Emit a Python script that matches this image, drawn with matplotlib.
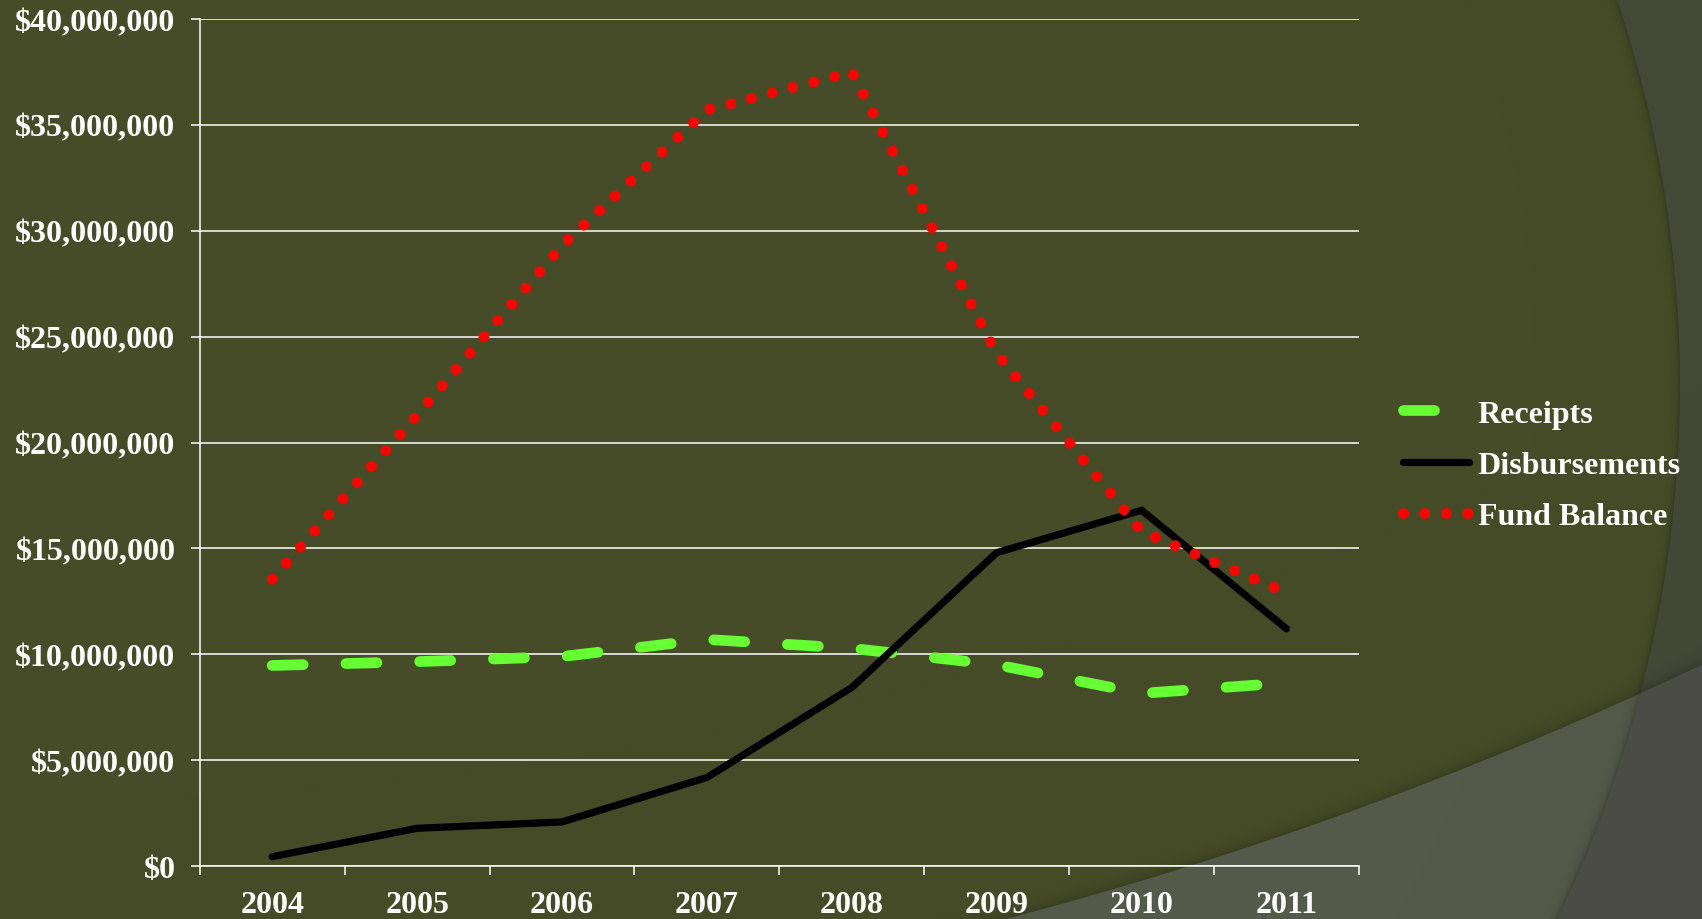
import numpy as np
import matplotlib
matplotlib.use('Agg')
import matplotlib.pyplot as plt
from matplotlib.ticker import FuncFormatter

# данные
years = ['2004', '2005', '2006', '2007', '2008', '2009', '2010', '2011']
receipts = [9.47e6, 9.65e6, 9.89e6, 10.70e6, 10.28e6, 9.50e6, 8.15e6, 8.65e6]
disbursements = [0.44e6, 1.78e6, 2.08e6, 4.18e6, 8.43e6, 14.80e6, 16.80e6, 11.20e6]
fund_balance = [13.54e6, 21.30e6, 29.30e6, 35.70e6, 37.50e6, 24.20e6, 15.80e6, 12.90e6]

W, H = 1702, 920
FONT = 'Liberation Serif'
FS = 23

fig = plt.figure(figsize=(W / 100, H / 100), dpi=100)

# --- фон: оливковый с двумя большими дугами ---
yy, xx = np.mgrid[0:H, 0:W] + 0.5
d1 = np.hypot(xx - 463, yy - 387) - 1217      # > 0 снаружи первой дуги
d2 = np.hypot(xx + 2, yy + 2920) - 3970       # > 0 снаружи второй дуги
a1 = np.clip(d1 + 0.5, 0, 1)[..., None]
a2 = np.clip(d2 + 0.5, 0, 1)[..., None]
base = np.array([70, 76, 39])
grey_tr = np.array([68, 72, 55])
light = np.array([85, 89, 74])
both = np.array([75, 76, 69])
col = (base * (1 - a1) * (1 - a2) + grey_tr * a1 * (1 - a2)
       + light * (1 - a1) * a2 + both * a1 * a2)
# тень вдоль краёв дуг
s1 = np.exp(-np.maximum(-d1, 0) / 4.0)[..., None] * (1 - a1) * 0.22
s2 = np.exp(-np.maximum(-d2, 0) / 7.0)[..., None] * (1 - a2) * 0.18
col = col * (1 - s1) * (1 - s2)

bg = fig.add_axes([0, 0, 1, 1], zorder=0)
bg.imshow(col / 255.0, extent=(0, W, H, 0), interpolation='nearest')
bg.set_xlim(0, W)
bg.set_ylim(H, 0)
bg.axis('off')

# --- основной график ---
ax = fig.add_axes([199.7 / W, 1 - 867 / H, (1359 - 199.7) / W, (867 - 20) / H], zorder=1)
ax.patch.set_alpha(0)

x = np.arange(len(years))
ax.plot(x, receipts, color='#66ff33', lw=7.7, dashes=(2.9, 4.0),
        dash_capstyle='round', solid_capstyle='round', label='Receipts', zorder=3)
ax.plot(x, disbursements, color='black', lw=5.2, solid_capstyle='round',
        solid_joinstyle='miter', label='Disbursements', zorder=4)
ax.plot(x, fund_balance, color='#ff0000', lw=7.8, dashes=(0.01, 1.97),
        dash_capstyle='round', label='Fund Balance', zorder=5)

ax.set_xlim(-0.5, len(years) - 0.5)
ax.set_ylim(0, 40e6)

ax.set_yticks(np.arange(0, 40e6 + 1, 5e6))
ax.yaxis.set_major_formatter(FuncFormatter(lambda v, p: '${:,.0f}'.format(v)))
ax.grid(axis='y', color='white', lw=1.1)
ax.set_axisbelow(True)

ax.set_xticks(np.arange(-0.5, len(years), 1))
ax.set_xticklabels([])
ax.set_xticks(x, minor=True)
ax.set_xticklabels(years, minor=True)

for s in ['top', 'right']:
    ax.spines[s].set_visible(False)
for s in ['left', 'bottom']:
    ax.spines[s].set_color('white')
    ax.spines[s].set_linewidth(1.1)

ax.tick_params(axis='y', which='major', colors='white', length=6.5, width=1.1, pad=11)
ax.tick_params(axis='x', which='major', colors='white', length=6.5, width=1.1)
ax.tick_params(axis='x', which='minor', length=0, pad=17)
for lab in ax.get_yticklabels() + ax.get_xticklabels(minor=True):
    lab.set_fontfamily(FONT)
    lab.set_fontweight('bold')
    lab.set_fontsize(FS)
    lab.set_color('white')

leg = ax.legend(loc='center left', bbox_to_anchor=(1403 / W, 1 - 466 / H),
                bbox_transform=fig.transFigure, frameon=False,
                handlelength=2.07, handletextpad=0.27, labelspacing=0.68,
                borderpad=0, borderaxespad=0,
                prop={'family': FONT, 'weight': 'bold', 'size': FS})
for t in leg.get_texts():
    t.set_color('white')

fig.savefig('out.png', dpi=100, facecolor=fig.get_facecolor())
